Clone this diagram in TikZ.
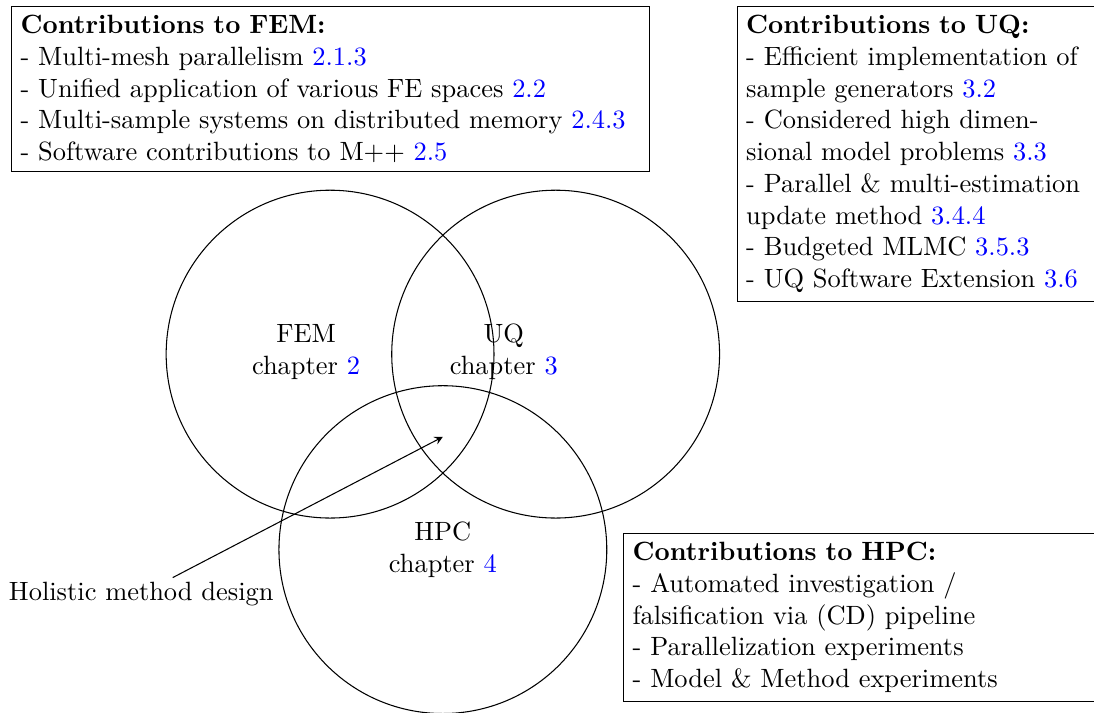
\documentclass[tikz,border=0pt]{standalone}
\usepackage{xcolor}
\usetikzlibrary{calc,arrows}

\begin{document}
\begin{tikzpicture}
% Keeps the page the size of the whole figure.
\useasboundingbox (-4.39,-4.77) rectangle (10.16,4.71);

% This determines how the circles and the boxes look.
\tikzstyle{venn}=[draw,circle,minimum size=4.36cm,inner sep=0pt]
\tikzstyle{contrib}=[draw,align=left]

% This draws the three circles.
\node[venn] (FEM) at (0,0) {};
\node[venn] (UQ) at (3,0) {};
\node[venn] (HPC) at (1.5,-2.6) {};

% This writes the names in the circles.
\node[align=center] (FEMname) at ($(FEM)+(-0.32,0.03)$) {FEM\\chapter \textcolor{blue}{2}};
\node[align=center] (UQname) at ($(UQ)+(-0.69,0.03)$) {UQ\\chapter \textcolor{blue}{3}};
\node[align=center] (HPCname) at (HPC) {HPC\\chapter \textcolor{blue}{4}};

% This points at the middle of the three circles.
\coordinate (mid) at (1.5,-1.1);
\node[anchor=west,inner sep=1.5pt] (holistic) at (-4.33,-3.19) {Holistic method design};
\draw[-stealth] (holistic) -- (mid);

% This draws the boxes with the contributions.
\node[contrib,anchor=north west,text width=8.25cm] (FEMbox) at (-4.24,4.63) {\textbf{Contributions to FEM:}\\
- Multi-mesh parallelism \textcolor{blue}{2.1.3}\\
- Unified application of various FE spaces \textcolor{blue}{2.2}\\
- Multi-sample systems on distributed memory \textcolor{blue}{2.4.3}\\
- Software contributions to M++ \textcolor{blue}{2.5}};

\node[contrib,anchor=north west,text width=4.7cm] (UQbox) at (5.41,4.63) {\textbf{Contributions to UQ:}\\
- Efficient implementation of\\
sample generators \textcolor{blue}{3.2}\\
- Considered high dimen-\\
sional model problems \textcolor{blue}{3.3}\\
- Parallel \& multi-estimation\\
update method \textcolor{blue}{3.4.4}\\
- Budgeted MLMC \textcolor{blue}{3.5.3}\\
- UQ Software Extension \textcolor{blue}{3.6}};

\node[contrib,anchor=north west,text width=6.3cm] (HPCbox) at (3.90,-2.38) {\textbf{Contributions to HPC:}\\
- Automated investigation /\\
falsification via (CD) pipeline\\
- Parallelization experiments\\
- Model \& Method experiments};
\end{tikzpicture}
\end{document}
